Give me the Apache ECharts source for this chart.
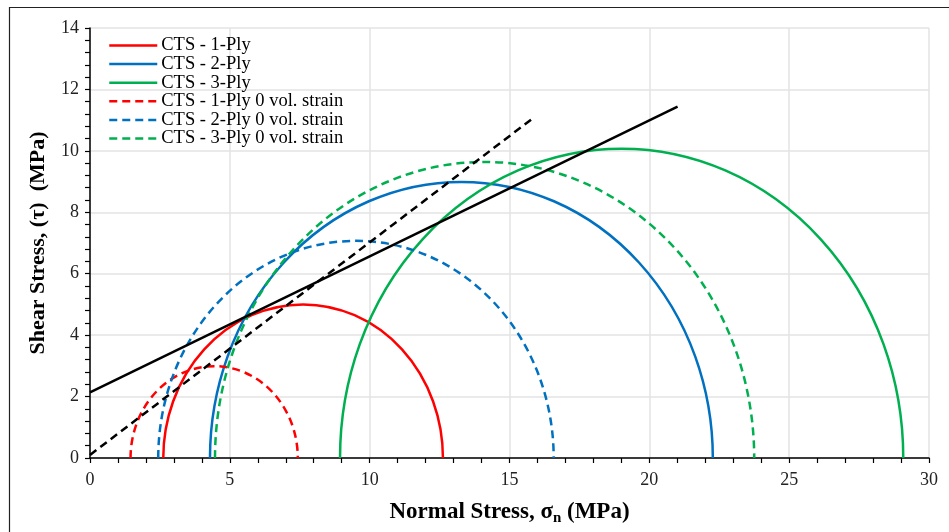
<!DOCTYPE html>
<html>
<head>
<meta charset="utf-8">
<script src="https://cdn.jsdelivr.net/npm/echarts@6/dist/echarts.min.js"></script>
<style>
html,body{margin:0;padding:0;background:#fff;}
#chart{width:949px;height:532px;}
</style>
</head>
<body>
<div id="chart"></div>
<script>
// ---- data ----
const circleNames = ['CTS - 1-Ply', 'CTS - 2-Ply', 'CTS - 3-Ply',
  'CTS - 1-Ply 0 vol. strain', 'CTS - 2-Ply 0 vol. strain', 'CTS - 3-Ply 0 vol. strain'];
const circleCenters = [7.62, 13.28, 19.01, 4.44, 9.51, 14.11];   // MPa (sigma_n)
const circleRadii   = [5.00, 8.99, 10.07, 2.99, 7.07, 9.64];     // MPa (tau max)
const circleColors  = ['#FF0000', '#0070C0', '#00B050', '#FF0000', '#0070C0', '#00B050'];
const circleDashed  = [false, false, false, true, true, true];
const envelopeSolid  = [[0, 2.14], [21.01, 11.44]];
const envelopeDashed = [[0, 0.10], [15.79, 11.03]];
const xTicks = [0, 30, 5];
const yTicks = [0, 14, 2];

const FONT = '"Liberation Serif", "Times New Roman", serif';
const DASH = [8, 5];

const chart = echarts.init(document.getElementById('chart'), null, {renderer: 'canvas'});

const series = [];
// legend carriers (line series, no data)
circleNames.forEach((n, i) => {
  series.push({
    type: 'line', name: n, data: [], symbol: 'none', showSymbol: false,
    itemStyle: {color: circleColors[i], opacity: 0},
    lineStyle: {color: circleColors[i], width: 2.5, type: circleDashed[i] ? DASH : 'solid'}
  });
});
// Mohr semicircles drawn through the axes' scales
circleNames.forEach((n, i) => {
  series.push({
    type: 'custom', name: n,
    data: [[circleCenters[i], circleRadii[i]]],
    itemStyle: {color: circleColors[i]},
    renderItem: function (params, api) {
      const c = api.value(0), r = api.value(1);
      const pL = api.coord([c - r, 0]);
      const pR = api.coord([c + r, 0]);
      const pT = api.coord([c, r]);
      const rx = (pR[0] - pL[0]) / 2;
      const ry = pL[1] - pT[1];
      return {
        type: 'path',
        shape: {pathData: 'M ' + pL[0] + ' ' + pL[1] + ' A ' + rx + ' ' + ry + ' 0 0 1 ' + pR[0] + ' ' + pR[1]},
        style: {fill: null, stroke: circleColors[i], lineWidth: 2.5, lineDash: circleDashed[i] ? DASH : null}
      };
    },
    z: 3
  });
});
series.push({
  type: 'line', data: envelopeSolid, symbol: 'none', silent: true,
  lineStyle: {color: '#000', width: 2.5}, z: 4
});
series.push({
  type: 'line', data: envelopeDashed, symbol: 'none', silent: true,
  lineStyle: {color: '#000', width: 2.5, type: DASH}, z: 4
});

chart.setOption({
  animation: false,
  backgroundColor: '#fff',
  grid: {left: 90, right: 20, top: 28, bottom: 74, containLabel: false},
  graphic: [{
    type: 'rect', z: 100,
    shape: {x: 9.5, y: 7.5, width: 1000, height: 600},
    style: {fill: null, stroke: '#222', lineWidth: 1.2}
  }],
  legend: {
    left: 103, top: 31, orient: 'vertical',
    itemWidth: 48, itemHeight: 10, itemGap: -0.4,
    itemStyle: {opacity: 0},
    lineStyle: {width: 2.5},
    textStyle: {fontFamily: FONT, fontSize: 18.5, color: '#000', lineHeight: 18, padding: [0, 0, 0, -1]},
    data: circleNames
  },
  xAxis: {
    type: 'value', min: xTicks[0], max: xTicks[1], interval: xTicks[2],
    name: '{a|Normal Stress, σ}{s|n}{a| (MPa)}',
    nameLocation: 'middle', nameGap: 41,
    nameTextStyle: {
      rich: {
        a: {fontFamily: FONT, fontSize: 23, fontWeight: 'bold', color: '#000', lineHeight: 24},
        s: {fontFamily: FONT, fontSize: 15, fontWeight: 'bold', color: '#000', padding: [12, 0, 0, 0]}
      }
    },
    axisLine: {lineStyle: {color: '#000', width: 1.5}},
    axisTick: {show: true, length: 5, inside: false, lineStyle: {color: '#000', width: 1.2}},
    minorTick: {show: true, splitNumber: 5, length: 5, lineStyle: {color: '#000', width: 1.2}},
    splitLine: {show: true, lineStyle: {color: '#e3e3e3', width: 1.5}},
    axisLabel: {fontFamily: FONT, fontSize: 18, color: '#222', margin: 13}
  },
  yAxis: {
    type: 'value', min: yTicks[0], max: yTicks[1], interval: yTicks[2],
    name: 'Shear Stress, (τ)  (MPa)',
    nameLocation: 'middle', nameGap: 41, nameRotate: 90,
    nameTextStyle: {fontFamily: FONT, fontSize: 22, fontWeight: 'bold', color: '#000'},
    axisLine: {show: true, lineStyle: {color: '#000', width: 1.5}},
    axisTick: {show: true, length: 5, inside: false, lineStyle: {color: '#000', width: 1.2}},
    minorTick: {show: true, splitNumber: 5, length: 5, lineStyle: {color: '#000', width: 1.2}},
    splitLine: {show: true, lineStyle: {color: '#e3e3e3', width: 1.5}},
    axisLabel: {fontFamily: FONT, fontSize: 18, color: '#222', margin: 11}
  },
  series: series
});
</script>
</body>
</html>
